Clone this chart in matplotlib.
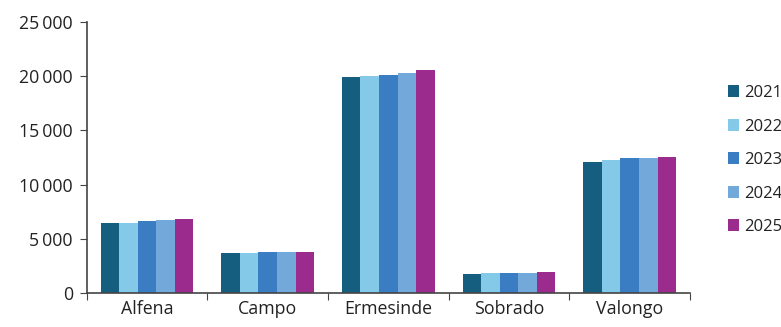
import numpy as np
import matplotlib.pyplot as plt
from matplotlib.ticker import FuncFormatter

plt.rcParams['font.family'] = ['Open Sans', 'DejaVu Sans']

places = ['Alfena', 'Campo', 'Ermesinde', 'Sobrado', 'Valongo']
years = ['2021', '2022', '2023', '2024', '2025']
v2021 = [6500, 3700, 19900, 1720, 12100]
v2022 = [6500, 3700, 20000, 1800, 12300]
v2023 = [6600, 3800, 20100, 1800, 12420]
v2024 = [6720, 3800, 20330, 1820, 12430]
v2025 = [6830, 3800, 20540, 1900, 12550]
colors = ['#155e80', '#85c9e8', '#3a7dc2', '#73a9da', '#9b2c8d']

series = [v2021, v2022, v2023, v2024, v2025]

fig = plt.figure(figsize=(7.81, 3.27), dpi=100)
ax = fig.add_axes([0.111, 0.104, 0.7725, 0.829])

x = np.arange(len(places))
w = 0.154
for i, vals in enumerate(series):
    ax.bar(x + (i - 2) * w, vals, width=w, color=colors[i], label=years[i],
           linewidth=0)

ax.set_xlim(-0.5, len(places) - 0.5)
ax.set_ylim(0, 25000)
ax.set_yticks(np.arange(0, 25001, 5000))
ax.yaxis.set_major_formatter(FuncFormatter(
    lambda v, p: '{:,.0f}'.format(v).replace(',', '\u2009')))

ax.set_xticks(np.arange(-0.5, len(places), 1.0))
ax.set_xticklabels([])
ax.set_xticks(x, minor=True)
ax.set_xticklabels(places, minor=True)
ax.tick_params(axis='x', which='minor', length=0, pad=5, labelsize=12.8, colors='#222222')
ax.tick_params(axis='x', which='major', length=5, direction='out', color='#444444')
ax.tick_params(axis='y', length=5, direction='out', color='#444444', labelsize=12.8,
               pad=5)
for lab in ax.get_yticklabels():
    lab.set_color('#222222')

for s in ['top', 'right']:
    ax.spines[s].set_visible(False)
for s in ['left', 'bottom']:
    ax.spines[s].set_color('#444444')
    ax.spines[s].set_linewidth(1.2)

leg = fig.legend(loc='upper left', bbox_to_anchor=(0.923, 0.76), frameon=False,
                 fontsize=12, handlelength=0.7, handleheight=0.7,
                 handletextpad=0.3, labelspacing=1.05, borderaxespad=0)
for t in leg.get_texts():
    t.set_color('#222222')

fig.savefig('out.png', dpi=100)
